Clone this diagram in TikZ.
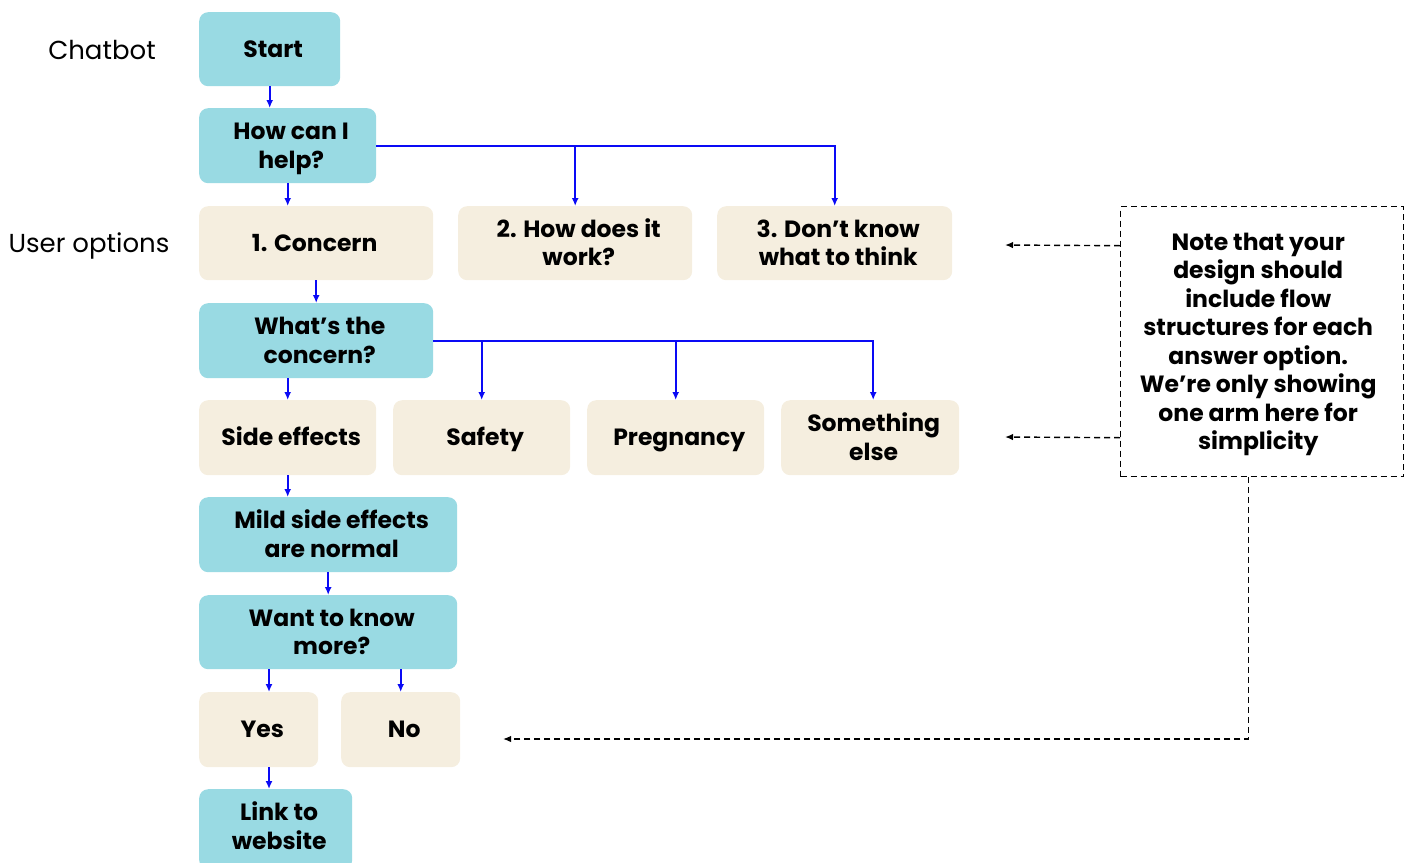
\documentclass[tikz,border=0pt]{standalone}
\usepackage{fontspec}
\setmainfont{Poppins}
\usetikzlibrary{arrows.meta}
\definecolor{botc}{HTML}{99DAE3}
\definecolor{optc}{HTML}{F5EEDF}
\definecolor{arrc}{HTML}{0A0AF5}
\newcommand\ls{\rule[-6pt]{0pt}{28.5pt}}
\newcommand\tightls{\lineskiplimit=-30pt\relax\lineskip=0pt\relax}
% \mkbox{name}{style}{x}{y}{w}{h}{text}
\newcommand\mkbox[7]{%
  \node[#2, minimum width=#5pt, minimum height=#6pt] (#1) at (#3,#4) {};
  \node[boxtext] (#1-t) at ([xshift=3.5pt]#1.center) {#7};
}
\begin{document}
\begin{tikzpicture}[x=1pt,y=-1pt,
 box/.style={rounded corners=9pt, inner sep=0pt, anchor=north west},
 boxtext/.style={inner sep=0pt, align=center,
   font=\bfseries\fontsize{23.5}{28.5}\selectfont\tightls},
 bot/.style={box, fill=botc},
 opt/.style={box, fill=optc},
 arr/.style={draw=arrc, line width=1.8pt, -{Latex[length=8pt,width=7pt]}},
 notearr/.style={draw=black, line width=1.4pt, dash pattern=on 6pt off 4pt, -{Latex[length=8pt,width=6.5pt]}},
 lab/.style={font=\fontsize{26}{30}\selectfont}
]
\useasboundingbox (0,0) rectangle (1410,862);
% labels
\node[lab] (lchat) at (102,50) {Chatbot};
\node[lab] (luser) at (89,246) {User options};
% boxes
\mkbox{start}{bot}{199}{12}{141}{74}{\ls Start}
\mkbox{how}{bot}{199}{108}{177}{75}{\ls How can I\\\ls help?}
\node[opt, minimum width=234pt, minimum height=74pt] (concern) at (199,206) {};
\node[boxtext] (concern-t) at ([xshift=-1.5pt]concern.center) {\ls 1. Concern};
\mkbox{hw}{opt}{458}{206}{234}{74}{\ls 2. How does it\\\ls work?}
\mkbox{dk}{opt}{717}{206}{235}{74}{\ls 3. Don’t know\\\ls what to think}
\mkbox{whats}{bot}{199}{303}{234}{75}{\ls What’s the\\\ls concern?}
\mkbox{side}{opt}{199}{400}{177}{75}{\ls Side effects}
\mkbox{safety}{opt}{393}{400}{177}{75}{\ls Safety}
\mkbox{preg}{opt}{587}{400}{177}{75}{\ls Pregnancy}
\mkbox{else}{opt}{781}{400}{178}{75}{\ls Something\\\ls else}
\mkbox{mild}{bot}{199}{497}{258}{75}{\ls Mild side effects\\\ls are normal}
\mkbox{want}{bot}{199}{595}{258}{74}{\ls Want to know\\\ls more?}
\mkbox{yes}{opt}{199}{692}{119}{75}{\ls Yes}
\mkbox{no}{opt}{341}{692}{119}{75}{\ls No}
\node[bot, minimum width=153pt, minimum height=80pt] (link) at (199,789) {};
\node[boxtext] (link-t) at ([xshift=3.5pt,yshift=2.5pt]link.center) {\ls Link to\\\ls website};
% note
\node[draw=black, line width=1.4pt, dash pattern=on 6pt off 4pt, inner sep=0pt, anchor=north west,
  minimum width=283pt, minimum height=270pt] (note) at (1120,206) {};
\node[boxtext] (note-t) at ([xshift=-4pt]note.center)
  {\ls Note that your\\\ls design should\\\ls include flow\\\ls structures for each\\\ls answer option.\\\ls We’re only showing\\\ls one arm here for\\\ls simplicity};
% helper coordinates
\coordinate (xa) at (269,0);
\coordinate (t1) at (1005,245);
\coordinate (t2) at (1005,437);
\coordinate (t3) at (503,739);
% flow arrows
\draw[arr] (start.south) -- (start.south |- how.north);
\draw[arr] (how.south) -- (how.south |- concern.north);
\draw[arr] (how.east) -| (dk.north);
\draw[arr] (how.east -| hw.north) -- (hw.north);
\draw[arr] (concern.south) -- (whats.north);
\draw[arr] (whats.south -| side.north) -- (side.north);
\draw[arr] (whats.east) -| ([xshift=3pt]else.north);
\draw[arr] (whats.east -| safety.north) -- (safety.north);
\draw[arr] (whats.east -| preg.north) -- (preg.north);
\draw[arr] (side.south) -- (side.south |- mild.north);
\draw[arr] (mild.south) -- (want.north);
\draw[arr] (want.south -| xa) -- (yes.north -| xa);
\draw[arr] (want.south -| no.north) -- (no.north);
\draw[arr] (yes.south -| xa) -- (link.north -| xa);
% note arrows
\draw[notearr] ([yshift=96pt]note.west) -- (t1);
\draw[notearr] ([yshift=-96pt]note.west) -- (t2);
\draw[notearr] ([xshift=-13.5pt]note.south) |- (t3);
\end{tikzpicture}
\end{document}
